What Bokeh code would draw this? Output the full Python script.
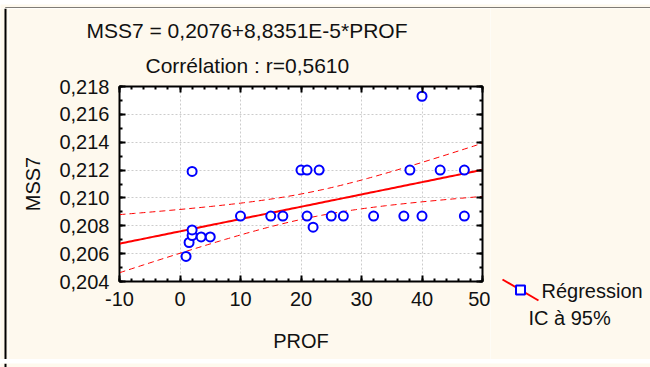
import numpy as np
from bokeh.plotting import figure
from bokeh.layouts import row, column
from bokeh.core.properties import value
from bokeh.models import (Range1d, LinearAxis, SingleIntervalTicker, CustomJSTickFormatter,
                          Title, Grid)
from bokeh.embed import file_html
from bokeh.resources import INLINE

# ---- data ----
prof = [1, 1.5, 2, 2, 2, 3.5, 5, 10, 15, 17, 20, 21, 21, 22, 23, 25, 27, 32, 37, 38, 40, 40, 43, 47, 47]
mss7 = [0.2058, 0.2068, 0.2073, 0.2077, 0.2119, 0.2072, 0.2072, 0.2087, 0.2087, 0.2087,
        0.2120, 0.2120, 0.2087, 0.2079, 0.2120, 0.2087, 0.2087, 0.2087, 0.2087, 0.2120,
        0.2173, 0.2087, 0.2120, 0.2120, 0.2087]
intercept = 0.2076
slope = 8.8351e-5
title_eq = "MSS7 = 0,2076+8,8351E-5*PROF"
title_r = "Corrélation : r=0,5610"
x_label = "PROF"
y_label = "MSS7"
legend_labels = ["Régression", "IC à 95%"]

FONT = "Liberation Sans"
BG = "#FEF9EE"
TXT = "#111111"
W, H = 650, 367
M = 8                          # strip holding the outer frame of the picture
W1 = 490                       # right edge of the main figure (page pixels)
FL, FR, FT, FB = 119, 482, 86, 281  # frame edges in page pixels
X0, X1, Y0, Y1 = -10, 50, 0.204, 0.218

x = np.array(prof, dtype=float)
y = np.array(mss7, dtype=float)
n = len(x)
res = y - (intercept + slope * x)
s = np.sqrt(np.sum(res ** 2) / (n - 2))
sxx = np.sum((x - x.mean()) ** 2)
t = 2.069  # t(0.975, 23)
xs = np.linspace(X0, X1, 121)
ys = intercept + slope * xs
hw = t * s * np.sqrt(1.0 / n + (xs - x.mean()) ** 2 / sxx)

def no_align(fig):
    try:
        fig.frame_align = False
    except Exception:
        pass

def strip(width, height, xr, yr):
    f = figure(width=width, height=height, output_backend="svg", toolbar_location=None,
               x_range=Range1d(*xr), y_range=Range1d(*yr),
               x_axis_type=None, y_axis_type=None, min_border=0)
    f.min_border_left = f.min_border_right = f.min_border_top = f.min_border_bottom = 0
    f.xgrid.visible = False
    f.ygrid.visible = False
    f.background_fill_color = BG
    f.border_fill_color = BG
    f.outline_line_color = None
    no_align(f)
    return f

# ---- main chart ----
p = figure(width=W1 - M, height=H - 2 * M, output_backend="svg", toolbar_location=None,
           x_range=Range1d(X0, X1), y_range=Range1d(Y0, Y1),
           x_axis_type=None, y_axis_type=None)
no_align(p)
p.min_border_left = FL - M
p.min_border_right = W1 - FR
p.min_border_top = FT - M
p.min_border_bottom = (H - M) - FB
p.background_fill_color = "white"
p.border_fill_color = BG
p.outline_line_color = "black"
p.outline_line_width = 2

xt = SingleIntervalTicker(interval=10, num_minor_ticks=5)
yt = SingleIntervalTicker(interval=0.002, num_minor_ticks=2)
yfmt = CustomJSTickFormatter(code="return tick.toFixed(3).replace('.', ',');")
xfmt = CustomJSTickFormatter(code="return tick.toFixed(0);")
blank = CustomJSTickFormatter(code="return '';")

def style(ax, labels=True):
    ax.axis_line_color = "black"
    ax.axis_line_width = 1
    ax.major_tick_in = 6
    ax.major_tick_out = 0
    ax.minor_tick_in = 3
    ax.minor_tick_out = 0
    ax.major_tick_line_color = "black"
    ax.minor_tick_line_color = "black"
    ax.major_tick_line_width = 2
    ax.minor_tick_line_width = 2
    ax.major_label_text_font = FONT
    ax.major_label_text_font_size = "20px" if labels else "1px"
    ax.major_label_text_color = TXT if labels else None
    ax.axis_label_text_font = FONT
    ax.axis_label_text_font_size = "20px"
    ax.axis_label_text_font_style = "normal"
    ax.axis_label_text_color = TXT
    if not labels:
        ax.major_label_standoff = 0

xb = LinearAxis(ticker=xt, formatter=xfmt, axis_label=x_label)
style(xb)
xb.major_label_standoff = 10
xb.axis_label_standoff = 21
p.add_layout(xb, "below")
yl = LinearAxis(ticker=yt, formatter=yfmt, axis_label=y_label)
style(yl)
yl.major_label_standoff = 10
yl.axis_label_standoff = 12
p.add_layout(yl, "left")
xa = LinearAxis(ticker=xt, formatter=blank)
style(xa, labels=False)
p.add_layout(xa, "above")
yr = LinearAxis(ticker=yt, formatter=blank)
style(yr, labels=False)
p.add_layout(yr, "right")

for dim, tk in ((0, xt), (1, yt)):
    p.add_layout(Grid(dimension=dim, ticker=tk, grid_line_color="#cccccc",
                      grid_line_dash="2 2", grid_line_width=1))

p.line(xs, ys, line_color="red", line_width=2)
p.line(xs, ys + hw, line_color="red", line_width=1, line_dash="6 4")
p.line(xs, ys - hw, line_color="red", line_width=1, line_dash="6 4")
p.scatter(prof, mss7, marker="circle", size=9, line_color="#0000ff", line_width=2, fill_color="white")

for txt, off, so in ((title_r, 26, 20), (title_eq, -33, 0)):
    p.add_layout(Title(text=txt, align="left", offset=off, standoff=so,
                       text_font=FONT, text_font_size="21px", text_font_style="normal",
                       text_color=TXT), "above")

# ---- legend panel on the right (pixel coordinates of the page) ----
q = strip(W - W1, H - 2 * M, (W1, W), (H - M, M))
leg_x = [502, 538]       # legend glyph: diagonal regression line
leg_y = [279, 300]
q.line(leg_x, leg_y, line_color="red", line_width=2)
q.scatter([sum(leg_x) / 2], [sum(leg_y) / 2], marker="square", size=9,
          line_color="#0000ff", line_width=2, fill_color="white")
q.text(x=[541, 528], y=[290, 317], text=legend_labels, text_font=value(FONT),
       text_font_size="20px", text_color=TXT, text_baseline="middle", text_align="left")

# ---- outer frame of the picture ----
top = strip(W, M, (0, W), (M, 0))
top.line([5, 5, W + 5], [M, 4, 4], line_color="black", line_width=2)
left = strip(M, H - 2 * M, (0, M), (H - M, M))
left.line([5, 5], [M, H - M], line_color="black", line_width=2)
bottom = strip(W, M, (0, W), (H, H - M))
bottom.line([5, 5, W + 5], [H - M, 365, 365], line_color="black", line_width=2)

lay = column(top, row(left, p, q, spacing=0), bottom, spacing=0)

open("out.html", "w").write(file_html(lay, INLINE))
